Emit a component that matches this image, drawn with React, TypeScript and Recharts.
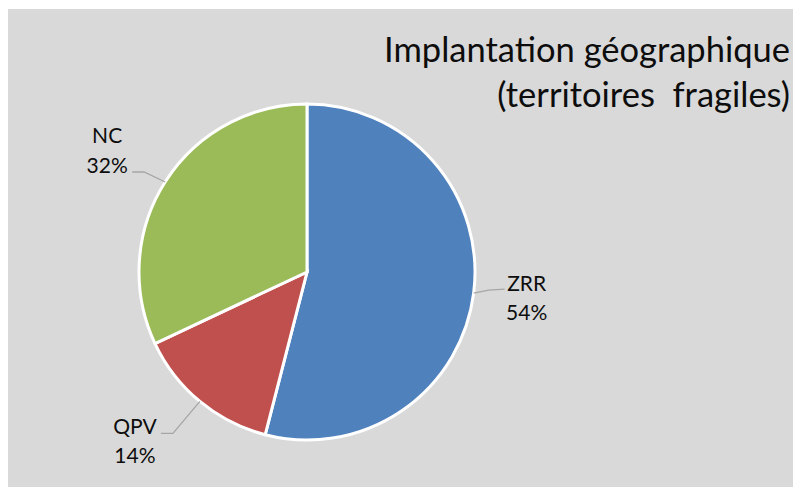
import React from "react";
import { PieChart, Pie, Cell } from "recharts";

const categories = ["ZRR", "QPV", "NC"];
const values = [54, 14, 32];
const colors = ["#4f81bd", "#c0504d", "#9bbb59"];
const titleLines = ["Implantation géographique", "(territoires  fragiles)"];

// label layout relative to the slice edge point (dx, dy)
const labelLayout = [
  { line: [[15, -3], [31, -4]], tx: 53, b1: -2, b2: 27 },
  { line: [[-27, 32], [-39, 32]], tx: -65, b1: 33, b2: 62 },
  { line: [[-21, -10], [-33, -10]], tx: -58, b1: -39, b2: -9 },
];

const data = categories.map((name, i) => ({ name, value: values[i] }));
const RAD = Math.PI / 180;
const FONT = "Lato, 'Open Sans', sans-serif";

const renderLabel = (props: any) => {
  const { cx, cy, midAngle, outerRadius, percent, index, name } = props;
  const ex = cx + outerRadius * Math.cos(-midAngle * RAD);
  const ey = cy + outerRadius * Math.sin(-midAngle * RAD);
  const L = labelLayout[index];
  const pts = [[ex, ey], ...L.line.map(([dx, dy]) => [ex + dx, ey + dy])];
  return (
    <g key={`lbl-${index}`}>
      <polyline
        points={pts.map((p) => p.join(",")).join(" ")}
        fill="none"
        stroke="#a6a6a6"
        strokeWidth={1.3}
      />
      <text x={ex + L.tx} y={ey + L.b1} textAnchor="middle" fontFamily={FONT} fontSize={21} fill="#0d0d0d">
        {name}
      </text>
      <text x={ex + L.tx} y={ey + L.b2} textAnchor="middle" fontFamily={FONT} fontSize={21} fill="#0d0d0d">
        {Math.round(percent * 100)}%
      </text>
    </g>
  );
};

export default function App() {
  return (
    <div style={{ position: "relative", top: 1, width: 793, height: 479, background: "#d9d9d9" }}>
      <PieChart width={793} height={479} margin={{ top: 0, right: 0, bottom: 0, left: 0 }}>
        <Pie
          data={data}
          dataKey="value"
          nameKey="name"
          cx={299}
          cy={263}
          outerRadius={168}
          startAngle={90}
          endAngle={-270}
          stroke="#ffffff"
          strokeWidth={3}
          label={renderLabel}
          labelLine={false}
          isAnimationActive={false}
        >
          {data.map((d, i) => (
            <Cell key={d.name} fill={colors[i]} />
          ))}
        </Pie>
      </PieChart>
      <svg width={793} height={479} style={{ position: "absolute", left: 0, top: 0, pointerEvents: "none" }}>
        <text x={782} y={53} textAnchor="end" fontFamily={FONT} fontSize={34.5} fill="#0d0d0d">
          {titleLines[0]}
        </text>
        <text x={782} y={98} textAnchor="end" fontFamily={FONT} fontSize={34.5} fill="#0d0d0d" style={{ whiteSpace: "pre" }}>
          {titleLines[1]}
        </text>
      </svg>
    </div>
  );
}
